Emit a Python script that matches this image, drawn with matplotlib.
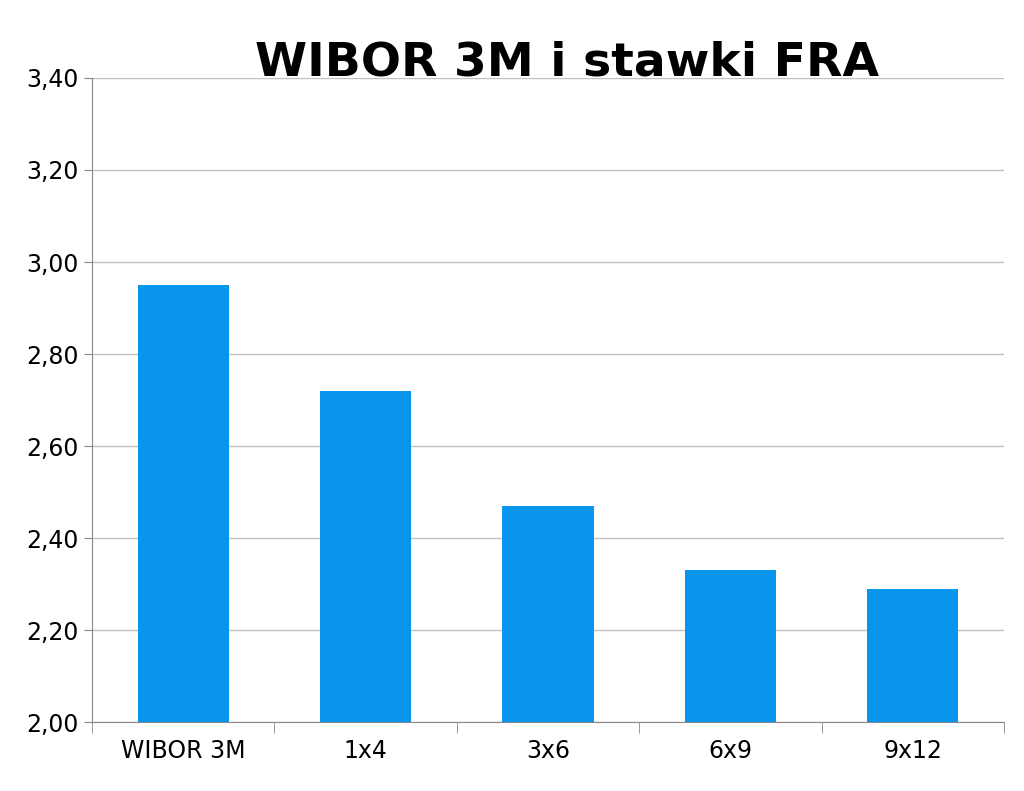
import numpy as np
import matplotlib.pyplot as plt

categories = ['WIBOR 3M', '1x4', '3x6', '6x9', '9x12']
values = [2.95, 2.72, 2.47, 2.33, 2.29]
yticks = [2.0, 2.2, 2.4, 2.6, 2.8, 3.0, 3.2, 3.4]

fig = plt.figure(figsize=(10.24, 7.91), dpi=100)
ax = fig.add_axes([0.0898, 0.0872, 0.8906, 0.8142])

x = np.arange(len(categories))
ax.bar(x, values, width=0.5, color='#0895EB', zorder=3)

ax.set_xlim(-0.5, len(categories) - 0.5)
ax.set_ylim(2.0, 3.4)
ax.set_yticks(yticks)
ax.set_yticklabels([('%.2f' % v).replace('.', ',') for v in yticks], fontsize=17)
ax.yaxis.grid(True, color='#c0c0c0', linewidth=1, zorder=0)

ax.set_xticks(x)
ax.set_xticklabels(categories, fontsize=17)
ax.tick_params(axis='x', length=0, pad=12)
ax.set_xticks(np.arange(-0.5, len(categories)), minor=True)
ax.tick_params(axis='x', which='minor', length=8, color='#888888')
ax.tick_params(axis='y', length=6, color='#888888')

for s in ['top', 'right']:
    ax.spines[s].set_visible(False)
for s in ['left', 'bottom']:
    ax.spines[s].set_color('#888888')

fig.text(0.554, 0.92, 'WIBOR 3M i stawki FRA', ha='center', va='center',
         fontsize=34, fontweight='bold')

fig.savefig('out.png')
